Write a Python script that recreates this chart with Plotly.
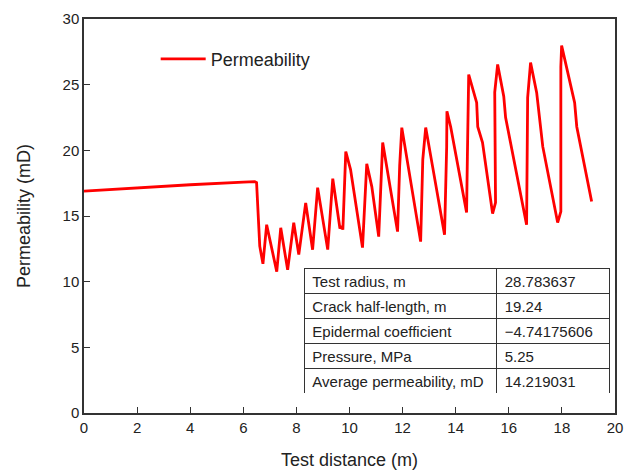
import plotly.graph_objects as go

# Permeability curve
dist = [0.0, 2.0, 4.0, 6.0, 6.43, 6.50, 6.62, 6.74, 6.88, 7.26, 7.41, 7.67, 7.90, 8.09, 8.35,
        8.61, 8.80, 9.18, 9.37, 9.64, 9.70, 9.75, 9.86, 10.04, 10.49, 10.65, 10.84, 11.10,
        11.25, 11.81, 11.89, 11.97, 12.68, 12.76, 12.87, 13.13, 13.58, 13.66, 13.67, 13.81,
        14.41, 14.44, 14.49, 14.79, 14.83, 15.01, 15.39, 15.50, 15.47, 15.58, 15.81, 15.88,
        16.22, 16.67, 16.71, 16.82, 17.05, 17.28, 17.84, 17.96, 17.96, 17.99, 18.48, 18.56,
        19.12]
perm = [16.90, 17.15, 17.38, 17.58, 17.62, 17.54, 12.70, 11.36, 14.34, 10.76, 14.10, 10.90,
        14.49, 12.06, 16.00, 12.43, 17.16, 12.44, 17.84, 14.05, 14.25, 13.96, 19.90, 18.53,
        12.59, 18.98, 17.24, 13.43, 20.59, 13.81, 18.84, 21.73, 13.05, 19.29, 21.73, 18.76,
        13.58, 20.28, 22.97, 21.80, 15.26, 19.50, 25.77, 23.63, 21.80, 20.59, 15.18, 16.02,
        24.41, 26.54, 24.10, 22.50, 19.07, 14.34, 24.01, 26.68, 24.39, 20.28, 14.50, 15.33,
        26.37, 27.97, 23.63, 21.80, 16.10]

# Table contents
param_names = ["Test radius, m", "Crack half-length, m", "Epidermal coefficient",
               "Pressure, MPa", "Average permeability, mD"]
param_values = ["28.783637", "19.24", "\u22124.74175606", "5.25", "14.219031"]

x_ticks = list(range(0, 21, 2))
y_ticks = list(range(0, 31, 5))

FONT = "Liberation Sans, Arial, sans-serif"
TXT = "#222222"

fig = go.Figure()
fig.add_trace(go.Scatter(x=dist, y=perm, mode="lines", name="Permeability",
                         line=dict(color="#ff0000", width=2.8)))

fig.add_trace(go.Table(
    domain=dict(x=[0.415, 0.991], y=[0.05, 0.368]),
    columnwidth=[193, 113],
    header=dict(values=[param_names[0], param_values[0]], height=25, align="left",
                fill=dict(color="white"), line=dict(color="#333333", width=1),
                font=dict(family=FONT, size=15, color=TXT)),
    cells=dict(values=[param_names[1:], param_values[1:]], height=25, align="left",
               fill=dict(color="white"), line=dict(color="#333333", width=1),
               font=dict(family=FONT, size=15, color=TXT)),
))

axis_font = dict(family=FONT, size=15, color=TXT)
fig.update_layout(
    width=624, height=471,
    margin=dict(l=84, r=9, t=19, b=58, autoexpand=False),
    paper_bgcolor="white", plot_bgcolor="white",
    showlegend=True,
    legend=dict(x=0.135, y=0.945, xanchor="left", yanchor="top", bgcolor="rgba(0,0,0,0)",
                font=dict(family=FONT, size=18, color=TXT), itemwidth=45),
    xaxis=dict(range=[0, 20], tickvals=x_ticks, ticks="inside", ticklen=6, tickwidth=1,
               tickcolor="#333333", showline=True, linecolor="#333333", linewidth=1.5,
               mirror=True, showgrid=False, zeroline=False, tickfont=axis_font,
               automargin=False,
               title=dict(text="Test distance (m)", standoff=19,
                          font=dict(family=FONT, size=18, color=TXT))),
    yaxis=dict(range=[0, 30], tickvals=y_ticks, ticks="inside", ticklen=6, tickwidth=1,
               tickcolor="#333333", showline=True, linecolor="#333333", linewidth=1.5,
               mirror=True, showgrid=False, zeroline=False, tickfont=axis_font,
               automargin=False,
               title=dict(text="Permeability (mD)", standoff=27,
                          font=dict(family=FONT, size=18, color=TXT))),
)

fig.write_html("out.html")
